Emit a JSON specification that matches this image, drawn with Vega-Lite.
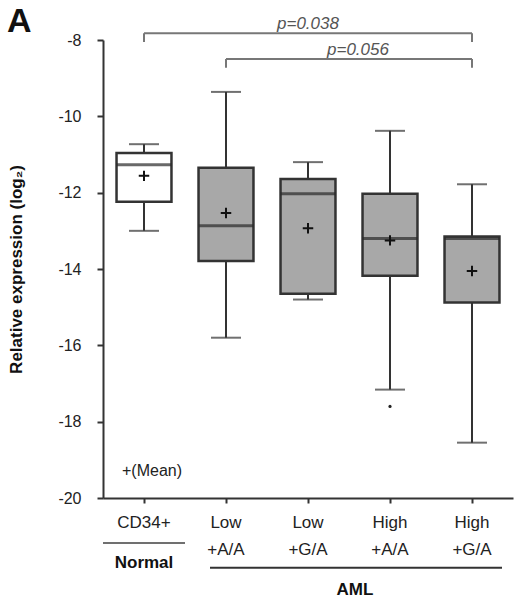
{
  "$schema": "https://vega.github.io/schema/vega-lite/v6.json",
  "description": "Relative expression (log2) box plots, CD34+ normal vs AML groups",
  "autosize": "none",
  "width": 410,
  "height": 458,
  "padding": {"left": 103, "top": 40, "right": 7, "bottom": 105},
  "background": "white",
  "config": {
    "view": {"stroke": null},
    "font": "Liberation Sans"
  },
  "datasets": {
    "boxes": [
      {"group": "CD34+", "lower": -13.0, "q1": -12.24, "median": -11.27, "q3": -10.96, "upper": -10.73, "mean": -11.56, "fill": "white"},
      {"group": "Low|+A/A", "lower": -15.8, "q1": -13.79, "median": -12.87, "q3": -11.35, "upper": -9.36, "mean": -12.53, "fill": "gray"},
      {"group": "Low|+G/A", "lower": -14.8, "q1": -14.65, "median": -12.03, "q3": -11.64, "upper": -11.2, "mean": -12.93, "fill": "gray"},
      {"group": "High|+A/A", "lower": -17.16, "q1": -14.18, "median": -13.2, "q3": -12.03, "upper": -10.38, "mean": -13.25, "fill": "gray"},
      {"group": "High|+G/A", "lower": -18.55, "q1": -14.88, "median": -13.2, "q3": -13.15, "upper": -11.78, "mean": -14.05, "fill": "gray"}
    ],
    "outliers": [
      {"group": "High|+A/A", "value": -17.6}
    ],
    "brackets": [
      {"from": "CD34+", "to": "High|+G/A", "y": -7.82, "label": "p=0.038"},
      {"from": "Low|+A/A", "to": "High|+G/A", "y": -8.5, "label": "p=0.056"}
    ],
    "bracketEnds": [
      {"group": "CD34+", "y": -7.82, "y2": -8.05},
      {"group": "High|+G/A", "y": -7.82, "y2": -8.05},
      {"group": "Low|+A/A", "y": -8.5, "y2": -8.73},
      {"group": "High|+G/A", "y": -8.5, "y2": -8.73}
    ]
  },
  "encoding": {
    "x": {
      "field": "group",
      "type": "nominal",
      "sort": ["CD34+", "Low|+A/A", "Low|+G/A", "High|+A/A", "High|+G/A"],
      "scale": {
        "domain": ["CD34+", "Low|+A/A", "Low|+G/A", "High|+A/A", "High|+G/A"],
        "paddingInner": 0.33,
        "paddingOuter": 0.165
      },
      "axis": {
        "title": null,
        "labelAngle": 0,
        "labelExpr": "split(datum.label, '|')",
        "labelFontSize": 17,
        "labelColor": "#222",
        "labelLineHeight": 27,
        "labelPadding": 11,
        "labelBaseline": "top",
        "tickSize": 5,
        "tickWidth": 2,
        "tickColor": "#333",
        "domainColor": "#333",
        "domainWidth": 2,
        "labelOverlap": false
      }
    }
  },
  "layer": [
    {
      "data": {"name": "boxes"},
      "mark": {"type": "rule", "stroke": "#333", "strokeWidth": 2},
      "encoding": {
        "y": {
          "field": "lower",
          "type": "quantitative",
          "scale": {"domain": [-20, -8], "nice": false, "zero": false},
          "axis": {
            "title": "Relative expression (log₂)",
            "titleFontSize": 17,
            "titleFontWeight": "bold",
            "titleColor": "#111",
            "titlePadding": 32,
            "values": [-8, -10, -12, -14, -16, -18, -20],
            "labelExpr": "toString(datum.value)",
            "labelFontSize": 16,
            "labelColor": "#222",
            "tickSize": 6,
            "tickWidth": 2,
            "tickColor": "#333",
            "domainColor": "#333",
            "domainWidth": 2,
            "grid": false,
            "labelPadding": 16
          }
        },
        "y2": {"field": "upper"}
      }
    },
    {
      "data": {"name": "boxes"},
      "mark": {"type": "tick", "color": "#333", "thickness": 2, "size": 30, "orient": "horizontal"},
      "encoding": {"y": {"field": "lower", "type": "quantitative"}}
    },
    {
      "data": {"name": "boxes"},
      "mark": {"type": "tick", "color": "#333", "thickness": 2, "size": 30, "orient": "horizontal"},
      "encoding": {"y": {"field": "upper", "type": "quantitative"}}
    },
    {
      "data": {"name": "boxes"},
      "mark": {"type": "bar", "stroke": "#333", "strokeWidth": 2.5},
      "encoding": {
        "y": {"field": "q1", "type": "quantitative"},
        "y2": {"field": "q3"},
        "fill": {
          "field": "fill",
          "type": "nominal",
          "scale": {"domain": ["white", "gray"], "range": ["#ffffff", "#a8a8a8"]},
          "legend": null
        }
      }
    },
    {
      "data": {"name": "boxes"},
      "mark": {"type": "tick", "color": "#2a2a2a", "thickness": 3, "size": 55, "orient": "horizontal"},
      "encoding": {"y": {"field": "median", "type": "quantitative"}}
    },
    {
      "data": {"name": "boxes"},
      "mark": {"type": "point", "shape": "M-1,0L1,0M0,-1L0,1", "filled": false, "stroke": "#111", "strokeWidth": 2, "size": 110, "opacity": 1},
      "encoding": {"y": {"field": "mean", "type": "quantitative"}}
    },
    {
      "data": {"name": "outliers"},
      "mark": {"type": "circle", "color": "#222", "size": 10, "opacity": 1},
      "encoding": {"y": {"field": "value", "type": "quantitative"}}
    },
    {
      "data": {"name": "brackets"},
      "mark": {"type": "rule", "stroke": "#777", "strokeWidth": 2},
      "encoding": {
        "x": {"field": "from", "type": "nominal"},
        "x2": {"field": "to"},
        "y": {"field": "y", "type": "quantitative"}
      }
    },
    {
      "data": {"name": "bracketEnds"},
      "mark": {"type": "rule", "stroke": "#777", "strokeWidth": 2},
      "encoding": {
        "y": {"field": "y", "type": "quantitative"},
        "y2": {"field": "y2"}
      }
    },
    {
      "data": {"values": [{"group": "Low|+G/A", "y": -7.71, "label": "p=0.038"}]},
      "mark": {"type": "text", "fontSize": 17, "fontStyle": "italic", "color": "#555", "baseline": "alphabetic", "align": "center"},
      "encoding": {
        "y": {"field": "y", "type": "quantitative"},
        "text": {"field": "label"}
      }
    },
    {
      "data": {"values": [{"group": "High|+A/A", "y": -8.39, "label": "p=0.056"}]},
      "mark": {"type": "text", "fontSize": 17, "fontStyle": "italic", "color": "#555", "baseline": "alphabetic", "align": "center", "dx": -32},
      "encoding": {
        "y": {"field": "y", "type": "quantitative"},
        "text": {"field": "label"}
      }
    },
    {
      "data": {"values": [{"group": "CD34+", "y": -7.78, "label": "A"}]},
      "mark": {"type": "text", "fontSize": 34, "fontWeight": "bold", "color": "#111", "baseline": "alphabetic", "align": "left", "dx": -137},
      "encoding": {
        "y": {"field": "y", "type": "quantitative"},
        "text": {"field": "label"}
      }
    },
    {
      "data": {"values": [{"group": "CD34+", "y": -19.3, "label": "+(Mean)"}]},
      "mark": {"type": "text", "fontSize": 16, "color": "#222", "align": "left", "baseline": "middle", "dx": -22},
      "encoding": {
        "y": {"field": "y", "type": "quantitative"},
        "text": {"field": "label"}
      }
    },
    {
      "data": {"values": [{"group": "CD34+", "y": -21.18}]},
      "mark": {"type": "tick", "color": "#333", "thickness": 2, "size": 82, "orient": "horizontal"},
      "encoding": {"y": {"field": "y", "type": "quantitative"}}
    },
    {
      "data": {"values": [{"group": "CD34+", "y": -21.7, "label": "Normal"}]},
      "mark": {"type": "text", "fontSize": 17, "fontWeight": "bold", "color": "#111", "baseline": "middle", "align": "center"},
      "encoding": {
        "y": {"field": "y", "type": "quantitative"},
        "text": {"field": "label"}
      }
    },
    {
      "data": {"values": [{"from": "Low|+A/A", "to": "High|+G/A", "y": -21.83}]},
      "mark": {"type": "rule", "stroke": "#333", "strokeWidth": 2, "xOffset": -16, "x2Offset": 30},
      "encoding": {
        "x": {"field": "from", "type": "nominal"},
        "x2": {"field": "to"},
        "y": {"field": "y", "type": "quantitative"}
      }
    },
    {
      "data": {"values": [{"group": "High|+A/A", "y": -22.4, "label": "AML"}]},
      "mark": {"type": "text", "fontSize": 17, "fontWeight": "bold", "color": "#111", "baseline": "middle", "align": "center", "dx": -35},
      "encoding": {
        "y": {"field": "y", "type": "quantitative"},
        "text": {"field": "label"}
      }
    }
  ]
}
